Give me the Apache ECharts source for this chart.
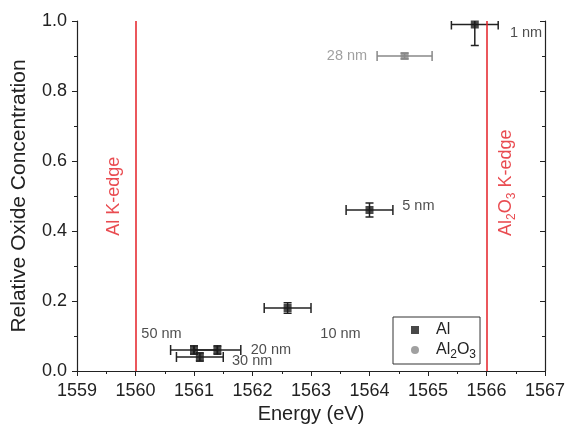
<!DOCTYPE html>
<html><head><meta charset="utf-8">
<script src="https://cdn.jsdelivr.net/npm/echarts@6/dist/echarts.min.js"></script>
<style>html,body{margin:0;padding:0;background:#fff}#c{width:565px;height:427px}</style>
</head><body><div id="c"></div>
<script>
// ---- data ----
const xMin = 1559, xMax = 1567, xStep = 1;
const yMin = 0, yMax = 1, yStep = 0.2;

const alSizes      = ['1 nm', '5 nm', '10 nm', '20 nm', '50 nm', '30 nm'];
const alEnergy     = [1565.8, 1564.0, 1562.6, 1561.4, 1561.0, 1561.1];
const alConc       = [0.99, 0.46, 0.18, 0.06, 0.06, 0.04];
const alEnergyErr  = [0.4, 0.4, 0.4, 0.4, 0.4, 0.4];
const alConcErr    = [0.06, 0.02, 0.015, 0.012, 0.012, 0.012];

const oxSizes      = ['28 nm'];
const oxEnergy     = [1564.6];
const oxConc       = [0.90];
const oxEnergyErr  = [0.47];
const oxConcErr    = [0.008];

const edgeEnergy   = [1560, 1566];

// annotation texts and their anchor points (data coordinates)
const noteText  = ['1 nm', '28 nm', '5 nm', '10 nm', '50 nm', '20 nm', '30 nm'];
const noteX     = [1566.4, 1563.96, 1564.56, 1563.16, 1560.10, 1561.97, 1561.65];
const noteY     = [0.966, 0.90, 0.471, 0.107, 0.106, 0.06, 0.029];
const noteSide  = ['right', 'left', 'right', 'right', 'right', 'right', 'right'];
const noteColor = ['#222', '#888', '#222', '#222', '#222', '#222', '#222'];

const edgeLabelX = [1559.64, 1566.34];
const edgeLabelY = [0.499, 0.538];
const edgeLabelText = ['Al K-edge', '{n|Al}{s|2}{n|O}{s|3}{n| K-edge}'];

// ---- chart ----
const chart = echarts.init(document.getElementById('c'));
const FONT = 'Liberation Sans, Arial, sans-serif';
const AX = '#222';
const RED = '#e41f26';

function errRender(color) {
  return function (params, api) {
    const x = api.value(0), y = api.value(1), ex = api.value(2), ey = api.value(3);
    const l = api.coord([x - ex, y]), r = api.coord([x + ex, y]);
    const t = api.coord([x, y + ey]), b = api.coord([x, y - ey]);
    const cap = 5;
    const st = { stroke: color, lineWidth: 1.5 };
    const line = (x1, y1, x2, y2) => ({ type: 'line', shape: { x1, y1, x2, y2 }, style: st });
    return {
      type: 'group',
      children: [
        line(l[0], l[1], r[0], r[1]),
        line(l[0], l[1] - cap, l[0], l[1] + cap),
        line(r[0], r[1] - cap, r[0], r[1] + cap),
        line(t[0], t[1], b[0], b[1]),
        line(t[0] - 4, t[1], t[0] + 4, t[1]),
        line(b[0] - 4, b[1], b[0] + 4, b[1])
      ]
    };
  };
}

const axisCommon = {
  type: 'value',
  axisLine: { show: true, lineStyle: { color: AX, width: 1.2 } },
  splitLine: { show: false },
  minorTick: { show: true, splitNumber: 2, length: 3, lineStyle: { color: AX } },
  axisTick: { length: 5, lineStyle: { color: AX } }
};

const option = {
  animation: false,
  backgroundColor: '#fff',
  textStyle: { fontFamily: FONT },
  grid: { left: 77, right: 20, top: 21, bottom: 56, containLabel: false, outerBoundsMode: 'none' },
  xAxis: [
    Object.assign({}, axisCommon, {
      position: 'bottom', min: xMin, max: xMax, interval: xStep,
      axisTick: { inside: false, length: 5, lineStyle: { color: AX } },
      axisLabel: { fontSize: 18, color: AX, margin: 11, fontFamily: FONT, formatter: v => String(v) },
      name: 'Energy (eV)', nameLocation: 'middle', nameGap: 33,
      nameTextStyle: { fontSize: 20, color: AX, fontFamily: FONT }
    }),
    Object.assign({}, axisCommon, {
      position: 'top', min: xMin, max: xMax, interval: xStep,
      axisTick: { inside: true, length: 5, lineStyle: { color: AX } },
      axisLabel: { show: false }
    })
  ],
  yAxis: [
    Object.assign({}, axisCommon, {
      position: 'left', min: yMin, max: yMax, interval: yStep,
      axisTick: { inside: false, length: 5, lineStyle: { color: AX } },
      axisLabel: { fontSize: 18, color: AX, margin: 10, fontFamily: FONT, formatter: v => v.toFixed(1) },
      name: 'Relative Oxide Concentration', nameLocation: 'middle', nameGap: 47, nameRotate: 90,
      nameTextStyle: { fontSize: 21, color: AX, fontFamily: FONT }
    }),
    Object.assign({}, axisCommon, {
      position: 'right', min: yMin, max: yMax, interval: yStep,
      axisTick: { inside: true, length: 5, lineStyle: { color: AX } },
      axisLabel: { show: false }
    })
  ],
  legend: {
    left: 393, top: 317, orient: 'vertical',
    borderColor: '#333', borderWidth: 1, borderRadius: 0,
    padding: [5, 4, 3, 18], itemGap: 4, itemWidth: 8, itemHeight: 8,
    textStyle: {
      fontSize: 16, color: AX, fontFamily: FONT,
      rich: {
        g: { width: 12 },
        n: { fontSize: 16, color: AX, fontFamily: FONT },
        s: { fontSize: 12, color: AX, fontFamily: FONT, verticalAlign: 'bottom', padding: [10, 0, 0, 0] }
      }
    },
    formatter: name => name === 'Al2O3' ? '{g| }{n|Al}{s|2}{n|O}{s|3}' : '{g| }{n|' + name + '}',
    data: [{ name: 'Al', icon: 'rect' }, { name: 'Al2O3', icon: 'circle' }]
  },
  series: [
    {
      name: 'AlErr', type: 'custom', clip: true,
      renderItem: errRender('#222'),
      data: alEnergy.map((x, i) => [x, alConc[i], alEnergyErr[i], alConcErr[i]]),
      z: 2
    },
    {
      name: 'OxErr', type: 'custom', clip: true,
      renderItem: errRender('#888'),
      data: oxEnergy.map((x, i) => [x, oxConc[i], oxEnergyErr[i], oxConcErr[i]]),
      z: 2
    },
    {
      name: 'Al', type: 'scatter', symbol: 'rect', symbolSize: 8,
      itemStyle: { color: '#1a1a1a' },
      data: alEnergy.map((x, i) => ({ name: alSizes[i], value: [x, alConc[i]] })),
      z: 3,
      markLine: {
        silent: true, symbol: 'none',
        lineStyle: { color: RED, width: 1.5, type: 'solid' },
        label: { show: false },
        data: edgeEnergy.map(e => ({ xAxis: e }))
      }
    },
    {
      name: 'Al2O3', type: 'scatter', symbol: 'rect', symbolSize: 8,
      itemStyle: { color: '#888' },
      data: oxEnergy.map((x, i) => ({ name: oxSizes[i], value: [x, oxConc[i]] })),
      z: 3
    },
    {
      name: 'notes', type: 'scatter', symbolSize: 0, silent: true,
      data: noteText.map((t, i) => ({
        name: t, value: [noteX[i], noteY[i]],
        label: { show: true, position: noteSide[i], distance: 0, color: noteColor[i], fontSize: 14.5, fontFamily: FONT, formatter: t }
      })),
      z: 4
    },
    {
      name: 'edgeNotes', type: 'scatter', symbolSize: 0, silent: true,
      data: edgeLabelText.map((t, i) => ({
        name: 'e' + i, value: [edgeLabelX[i], edgeLabelY[i]],
        label: {
          show: true, position: 'inside', rotate: 90, formatter: t,
          color: RED, fontSize: 18, fontFamily: FONT,
          rich: {
            n: { fontSize: 18, color: RED, fontFamily: FONT },
            s: { fontSize: 12, color: RED, fontFamily: FONT, verticalAlign: 'bottom', padding: [10, 0, 0, 0] }
          }
        }
      })),
      z: 4
    }
  ]
};
chart.setOption(option);
</script>
</body></html>
